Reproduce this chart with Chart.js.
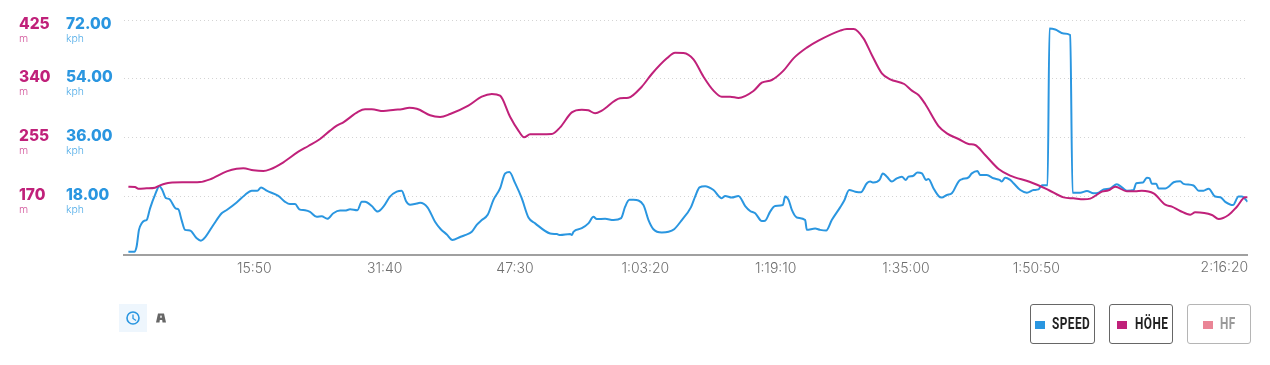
<!DOCTYPE html>
<html>
<head>
<meta charset="utf-8">
<title>Speed und Höhe</title>
<script src="https://cdn.jsdelivr.net/npm/chart.js@4"></script>
<style>
    html, body { margin: 0; padding: 0; background: #fff; overflow: hidden; }
    #wrap { position: relative; width: 1270px; height: 365px; }
    #chart { position: absolute; left: 0; top: 0; }
    .btn {
        position: absolute; top: 304px; height: 40px; box-sizing: border-box;
        border: 1px solid #666; border-radius: 3px; background: #fff;
        font: bold 16px Roboto, sans-serif;
        color: #222; line-height: 38px;
    }
    .btn i { position: absolute; left: 4px; top: 16px; width: 10px; height: 8px; }
    .btn span { position: absolute; top: 0; transform: scaleX(0.74); transform-origin: left center; letter-spacing: 0.6px; }
    .btn.off { border-color: #b5b5b5; color: #999; }
    #timeBtn { position: absolute; left: 119px; top: 304px; width: 28px; height: 28px; background: #eef6fd; }
    #timeBtn svg, #distBtn svg { display: block; }
    #distBtn { position: absolute; left: 155px; top: 312px; width: 12px; height: 12px; }
</style>
</head>
<body>
<div id="wrap">
    <canvas id="chart" width="1270" height="365"></canvas>
    <div id="timeBtn">
        <svg width="28" height="28"><circle cx="14" cy="14" r="6" fill="none" stroke="#2a96e0" stroke-width="1.6"/><path d="M14 10.5V14.5L17 16.5" fill="none" stroke="#2a96e0" stroke-width="1.3"/></svg>
    </div>
    <div id="distBtn">
        <svg width="12" height="12"><path d="M3 1.5H9L11 10.5H7.5L7.2 8H4.8L4.5 10.5H1Z" fill="#666"/><rect x="5.3" y="3.6" width="1.4" height="2.2" fill="#fff"/></svg>
    </div>
</div>
<script>
// speed samples, time in seconds and km/h
const speedTimes = [32,75,92,109,129,148,165,190,226,258,279,306,328,379,396,420,445,481,530,561,591,651,712,749,821,882,931,972,999,1040,1125,1174,1210,1247,1278,1320,1356,1405,1441,1482,1526,1575,1611,1648,1701,1733,1757,1806,1849,1891,1939,1988,2024,2056,2085,2134,
    2158,2212,2267,2309,2353,2394,2450,2486,2535,2571,2608,2651,2693,2741,2778,2809,2851,2899,2948,2997,3106,3155,3179,3252,3264,3276,3337,3385,3422,3446,3507,3568,3624,3653,3684,3714,3786,3823,3859,3920,3969,4010,4066,4132,4163,4195,4236,4297,4357,4382,4430,4479,4528,4564,4601,4649,4673,4710,4746,4802,4819,4844,4868,4904,4965,4977,5038,5074,5118,5159,
    5220,5249,5286,5330,5371,5415,5439,5463,5507,5531,5561,5597,5633,5670,5699,5718,5750,5784,5816,5847,5864,5901,5937,5961,5998,6034,6083,6107,6156,6180,6221,6241,6289,6338,6382,6399,6423,6460,6484,6533,6581,6630,6666,6691,6732,6746,6788,6849,6897,6914,6970,7019,7067,7104,7140,7189,7237,7274,7310,7359,7378,7427,7456,7475,7492,7524,7541,7590,7614,7651,7699,7723,7796,7833,7869,7906,7954,7991,8027,8083,8124,8149,8190];
const speedValues = [1.0,1.0,2.6,7.7,9.7,10.5,10.7,14.3,18.4,21.1,19.9,17.4,17.2,14.2,14.0,10.7,7.7,7.5,5.1,4.4,5.4,9.2,12.8,13.8,16.1,18.4,19.7,19.7,20.7,19.7,18.1,16.3,15.6,15.6,14.0,13.7,13.2,11.7,11.9,11.1,12.8,13.6,13.6,14.0,13.7,16.3,16.3,15.0,13.3,14.8,17.9,19.4,19.7,16.5,15.4,15.8,
    16.0,14.6,10.2,7.9,6.3,4.6,5.5,6.1,7.1,9.2,10.7,12.3,16.9,20.4,25.0,25.4,22.0,17.4,11.5,9.7,6.6,6.4,6.1,6.4,6.1,7.1,8.2,9.7,11.7,11.0,11.1,10.7,11.3,14.8,16.9,16.9,15.3,10.7,7.9,6.9,7.1,7.9,10.7,14.6,17.9,20.7,21.1,19.9,17.4,18.1,17.6,18.1,15.0,13.5,12.8,10.4,10.5,13.3,15.0,15.3,17.9,16.9,13.8,11.5,10.7,7.7,8.1,7.7,7.5,10.7,
    14.6,16.6,19.9,19.4,19.2,22.0,22.5,22.2,23.0,25.0,24.0,22.5,23.5,24.0,23.0,24.0,24.2,25.3,25.0,23.0,23.3,20.4,18.1,17.6,18.4,18.9,22.5,23.2,23.8,25.0,25.7,24.5,24.5,23.5,23.0,22.5,23.7,23.0,22.0,19.9,19.1,19.9,20.1,21.4,21.4,69.4,69.1,67.9,67.4,19.1,19.1,19.6,18.9,19.1,20.1,20.4,21.7,20.7,19.7,19.9,22.0,22.2,23.7,23.5,21.8,21.8,20.4,20.4,20.9,22.3,22.6,21.8,21.3,19.7,19.7,20.3,17.9,17.7,16.3,15.3,17.9,17.9,16.3];

// elevation samples, time in seconds and metres
const elevationTimes = [32,80,105,165,226,262,335,433,554,627,749,821,870,943,1016,1064,1162,1271,1344,1429,1502,1551,1599,1708,1757,1806,1891,1976,2024,2080,2134,
    2158,2231,2304,2377,2510,2608,2681,2741,2814,2875,2916,2960,3118,3179,3264,3337,3385,3434,3483,3616,3677,3774,3847,3957,4017,4078,4151,4224,4297,4357,4418,4479,4588,4649,4722,4807,4880,4977,5062,
    5220,5269,5318,5390,5451,5524,5585,5687,5743,5791,5840,5937,5998,6083,6156,6204,6277,6375,6459,6605,6739,6849,6921,6994,7043,7128,7177,7225,7310,7371,7419,7505,7590,7638,7699,7772,7808,7930,7979,8051,8112,8173,8190];
const elevationValues = [183.9,183.4,181.0,181.5,182.4,185.8,189.7,190.1,190.6,194.5,206.0,209.9,210.4,207.5,206.5,208.9,219.1,234.5,242.7,252.8,264.9,272.1,277.0,292.4,295.8,295.8,293.3,295.3,295.8,298.2,296.7,
    294.8,287.1,284.7,289.0,301.1,314.1,318.0,315.5,285.1,264.9,255.2,259.6,260.1,269.7,291.4,295.3,294.3,290.0,293.8,311.7,312.6,328.5,346.9,369.5,377.7,377.3,368.1,343.0,322.8,314.1,314.1,312.2,322.3,334.3,338.2,351.7,369.5,385.0,395.1,
    409.6,412.0,412.0,398.5,374.4,347.8,339.2,332.4,322.8,316.5,303.5,271.6,261.0,252.8,245.6,244.2,229.7,209.4,199.8,190.6,179.0,168.4,167.0,165.5,166.5,176.6,178.6,183.9,177.1,177.1,178.1,174.2,157.8,154.9,148.7,143.3,146.7,142.9,137.1,142.9,154.9,168.4,168.4];

// axis ticks
const timeTicks = [950,1900,2850,3800,4750,5700,6650];
const timeLabels = ['15:50','31:40','47:30','1:03:20','1:19:10','1:35:00','1:50:50'];
const lastTimeTick = 8180;
const lastTimeLabel = '2:16:20';
const speedTicks = [0,18,36,54,72];
const speedLabels = ['','18.00','36.00','54.00','72.00'];
const elevationTicks = [85,170,255,340,425];
const elevationLabels = ['','170','255','340','425'];

// legend buttons below the chart
const legendNames = ['SPEED','HÖHE','HF'];
const legendColors = ['#2a96e0','#c0217a','#ea8596'];
const legendLefts = [1030,1109,1187];
const legendWidths = [65,64,64];
const swatchLefts = [4,7,15];
const textLefts = [21,24.5,32];

const BLUE = '#2a96e0';
const MAGENTA = '#c0217a';
const GREY_TEXT = '#6f6f6f';

function toPoints(times, values) {
    return times.map(function (t, i) { return { x: t, y: values[i] }; });
}

// value and unit captions of one y axis, the top one sits below its grid line
function drawAxisLabels(ctx, scale, ticks, labels, unit, color, unitColor) {
    ticks.forEach(function (v, i) {
        if (!labels[i]) return;
        const y = scale.getPixelForValue(v);
        const isTop = i === ticks.length - 1;
        ctx.font = '800 15.5px Inter';
        ctx.fillStyle = color;
        ctx.fillText(labels[i], scale.left, y + (isTop ? 4 : -1));
        ctx.font = '300 10.5px Inter';
        ctx.fillStyle = unitColor;
        ctx.fillText(unit, scale.left, y + (isTop ? 19 : 13.5));
    });
}

// draws the y axis captions and the right aligned last time label
const extraLabels = {
    id: 'extraLabels',
    afterDraw: function (chart) {
        const ctx = chart.ctx;
        const xS = chart.scales.x;
        ctx.save();
        ctx.textBaseline = 'middle';
        ctx.textAlign = 'left';
        drawAxisLabels(ctx, chart.scales.yElevation, elevationTicks, elevationLabels, 'm', MAGENTA, '#d2559b');
        drawAxisLabels(ctx, chart.scales.ySpeed, speedTicks, speedLabels, 'kph', BLUE, '#55aee8');
        ctx.font = '300 14px Inter';
        ctx.fillStyle = GREY_TEXT;
        ctx.textAlign = 'right';
        ctx.fillText(lastTimeLabel, xS.getPixelForValue(lastTimeTick) + 2, xS.top + 13);
        ctx.restore();
    }
};

new Chart(document.getElementById('chart').getContext('2d'), {
    type: 'line',
    data: {
        datasets: [{
            label: 'HÖHE',
            data: toPoints(elevationTimes, elevationValues),
            yAxisID: 'yElevation',
            borderColor: MAGENTA,
            borderWidth: 2,
            pointRadius: 0,
            cubicInterpolationMode: 'monotone',
            order: 1
        }, {
            label: 'SPEED',
            data: toPoints(speedTimes, speedValues),
            yAxisID: 'ySpeed',
            borderColor: BLUE,
            borderWidth: 2,
            pointRadius: 0,
            cubicInterpolationMode: 'monotone',
            order: 2
        }]
    },
    options: {
        responsive: false,
        animation: false,
        layout: { padding: { left: 19, top: 20, right: 22.4, bottom: 0 } },
        plugins: { legend: { display: false }, tooltip: { enabled: false } },
        scales: {
            x: {
                type: 'linear',
                min: 0,
                max: 8190,
                afterBuildTicks: function (axis) {
                    axis.ticks = timeTicks.map(function (v) { return { value: v }; });
                },
                afterFit: function (axis) { axis.height = 110; },
                grid: { drawOnChartArea: false, drawTicks: false },
                border: { color: '#a0a0a0', width: 2 },
                ticks: {
                    maxRotation: 0,
                    autoSkip: false,
                    padding: 5,
                    color: GREY_TEXT,
                    font: { family: 'Inter', size: 14, weight: '300' },
                    callback: function (value) {
                        return timeLabels[timeTicks.indexOf(value)];
                    }
                }
            },
            yElevation: {
                position: 'left',
                weight: 2,
                min: 85,
                max: 425,
                afterBuildTicks: function (axis) {
                    axis.ticks = elevationTicks.map(function (v) { return { value: v }; });
                },
                afterFit: function (axis) { axis.width = 47; },
                grid: { display: false },
                border: { display: false },
                ticks: { display: false }
            },
            ySpeed: {
                position: 'left',
                weight: 1,
                min: 0,
                max: 72,
                afterBuildTicks: function (axis) {
                    axis.ticks = speedTicks.map(function (v) { return { value: v }; });
                },
                afterFit: function (axis) { axis.width = 58; },
                grid: {
                    drawTicks: false,
                    color: function (c) { return c.tick.value === 0 ? 'rgba(0,0,0,0)' : '#d4d4d4'; },
                    lineWidth: 1
                },
                border: { display: false, dash: [1, 3] },
                ticks: { display: false }
            }
        }
    },
    plugins: [extraLabels]
});

// build the legend buttons from the lists above
const wrap = document.getElementById('wrap');
legendNames.forEach(function (name, i) {
    const btn = document.createElement('div');
    btn.className = i === 2 ? 'btn off' : 'btn';
    btn.style.left = legendLefts[i] + 'px';
    btn.style.width = legendWidths[i] + 'px';
    const swatch = document.createElement('i');
    swatch.style.background = legendColors[i];
    swatch.style.left = swatchLefts[i] + 'px';
    const text = document.createElement('span');
    text.textContent = name;
    text.style.left = textLefts[i] + 'px';
    btn.appendChild(swatch);
    btn.appendChild(text);
    wrap.appendChild(btn);
});
</script>
</body>
</html>
